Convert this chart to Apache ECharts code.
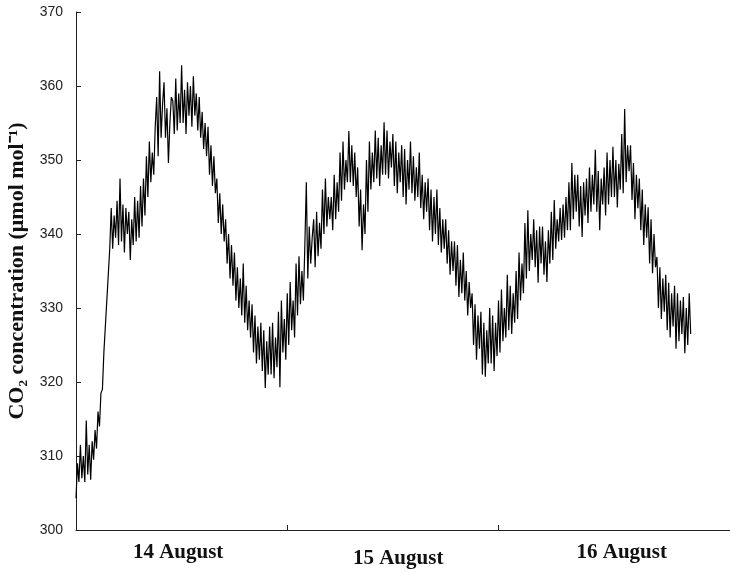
<!DOCTYPE html>
<html>
<head>
<meta charset="utf-8">
<script src="https://cdn.jsdelivr.net/npm/echarts@6/dist/echarts.min.js"></script>
<style>html,body{margin:0;padding:0;background:#fff;}#c{width:730px;height:573px;}</style>
</head>
<body>
<div id="c"></div>
<script>
// sampling step of the record, hours (6 samples per hour)
const stepHours = 1 / 6;
// CO2 concentration (µmol mol-1), from 0 h (start of 14 August)
const co2 = [
  304.3,309,306.5,311.5,307,310,
  306.5,314.8,307.5,311.5,306.8,312,
  309.5,313.5,311,316,314,318.5,
  319,324,327.5,331,334.5,338,
  343.5,338,342.5,339.5,344.5,338.5,
  347.5,339,344,337.5,343.5,340,
  343,336.5,342,338.5,345,339,
  344.5,339.5,346.5,341,347.5,342.5,
  350.5,345,352.5,347,351,348,
  354.5,358.5,350.5,362,353,357.5,
  360.5,353,357,349.6,355,358.5,
  358,353.5,361,354,359,355,
  362.8,355,359.5,353.5,360.5,356,
  360,354.5,361.3,356,359,354,
  358.5,353,356.5,351.5,355,350.5,
  354.5,348,352,346.5,350.5,345.5,
  347.5,341.5,345.5,340,344,339,
  342,336,340,334,338.5,333,
  337.5,331,335.5,330,334,329,
  336,328,333,327,331,326,
  330.5,324,329,322.5,327.5,323,
  328,321.5,327,319.2,325.5,321,
  327.5,321,328,320.5,326,322,
  329.5,319.3,331,324,328.5,323,
  332,325,333.5,327,331,326,
  336,329,337,330.5,335,331,
  338.5,347,334,341,336,339.5,
  342,335.5,343,337,341.5,338,
  346,340,347.5,341,345,342,
  345,340.5,348,342,347,343,
  351,344.5,352.5,346,350,347,
  353.9,347,352,346.5,351,345,
  349,341,346,337.8,344,340,
  350,343,352.5,346,351,347,
  354,347.5,353,346.5,352,348,
  355.1,348,354,347.5,352.5,349,
  353.5,346.5,352.5,345.5,351,347,
  352,345,351.5,344,350,346,
  352.5,345.5,350.5,344.5,349,345,
  351,343.5,348,342,347,343,
  347.5,340.5,346,339,345,340,
  346,338.5,343.5,337.5,342,338,
  342,336,340.5,334.5,339,335,
  339,333,338.5,331.5,336.5,332,
  337.5,331,335,329,333.5,330,
  332,325,330.5,323,329,324.5,
  329.5,321,328,320.7,327,322.5,
  330,322.5,329,321.5,328,323.5,
  331,324,332.5,325.5,330,326,
  334.5,327,333,326.5,332,328,
  335,328.5,337.5,331,336,332,
  341.5,334,343.2,335,340,336.5,
  342,335.5,340.5,333.4,341,336,
  341,334.5,339,333.5,340.5,336,
  343,336.5,344.6,338,342,339,
  343.5,339.2,344,339.5,345,340.5,
  347,340.5,349.6,342,348,343,
  348,341,346.5,339.6,347,342.5,
  347.5,341.5,349,343,348,344,
  351.4,343,348.5,340.5,347.5,344,
  349,342.5,351,344,350,345,
  351.8,345,350,343.6,349.5,346,
  353.5,345.5,356.9,347,352,348.5,
  352,344.6,349.6,342,348,343.5,
  347.5,340.5,346,338.5,344,339.5,
  343.6,336,342,334.7,340,335.5,
  336.9,330,335.5,328.5,334,329.5,
  334.5,327,333.4,326,332,327.5,
  333,324.5,332,325.5,331,326.5,
  331.5,323.9,330,325,332,326.5
];
// x-axis: day boundaries (h) and day label centres (h)
const dayTicks = [24, 48];
const dayLabelPos = [11.6, 36.6, 62.0];
const dayLabels = ['14 August', '15 August', '16 August'];
const yTicks = [300, 310, 320, 330, 340, 350, 360, 370];

const data = co2.map((v, i) => [i * stepHours, v]);

const chart = echarts.init(document.getElementById('c'), null, {renderer: 'canvas'});
chart.setOption({
  animation: false,
  backgroundColor: '#fff',
  grid: {left: 76, right: 0, top: 12, bottom: 43, containLabel: false, outerBoundsMode: 'none'},
  xAxis: {
    type: 'value', min: 0, max: 74.3,
    axisLine: {show: true, lineStyle: {color: '#222', width: 1}},
    axisTick: {show: true, inside: true, length: 5, customValues: dayTicks, lineStyle: {color: '#222'}},
    axisLabel: {
      customValues: dayLabelPos,
      margin: 12,
      formatter: function (v) {
        const i = dayLabelPos.indexOf(v);
        const t = i >= 0 ? dayLabels[i] : '';
        return i === 1 ? '{low|' + t + '}' : '{n|' + t + '}';
      },
      rich: {
        n: {fontFamily: 'Liberation Serif', fontWeight: 'bold', fontSize: 21, color: '#111'},
        low: {fontFamily: 'Liberation Serif', fontWeight: 'bold', fontSize: 21, color: '#111', padding: [6, 0, 0, 0]}
      }
    },
    splitLine: {show: false}
  },
  yAxis: {
    type: 'value', min: 300, max: 370, interval: 10,
    axisLine: {show: true, lineStyle: {color: '#222', width: 1}},
    axisTick: {show: true, inside: true, length: 5, lineStyle: {color: '#222'}},
    axisLabel: {
      fontFamily: 'Liberation Sans', fontSize: 14, color: '#222', margin: 13,
      formatter: v => yTicks.includes(v) ? String(v) : ''
    },
    splitLine: {show: false},
    name: 'CO\u2082 concentration (\u03bcmol mol\u207b\u00b9)',
    nameLocation: 'middle',
    nameGap: 48,
    nameRotate: 90,
    nameTextStyle: {fontFamily: 'Liberation Serif', fontWeight: 'bold', fontSize: 22, color: '#111'}
  },
  series: [{
    type: 'line',
    data: data,
    showSymbol: false,
    symbol: 'none',
    lineStyle: {color: '#000', width: 1.2},
    silent: true
  }]
});
</script>
</body>
</html>
